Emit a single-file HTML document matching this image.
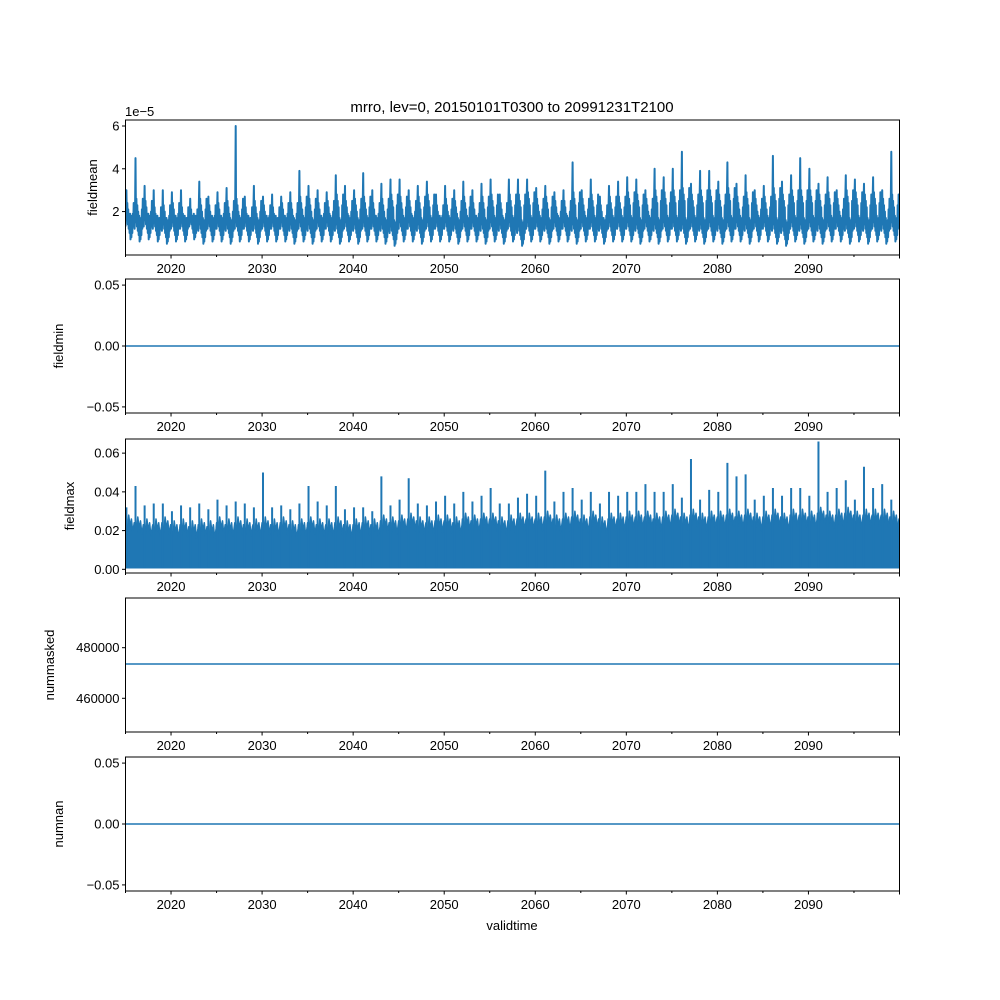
<!DOCTYPE html>
<html><head><meta charset="utf-8"><style>
body{margin:0;background:#fff}
svg{display:block;font-family:"Liberation Sans","DejaVu Sans",sans-serif}
</style></head><body>
<svg id="fig" width="1000" height="1000" viewBox="0 0 1000 1000"></svg>
<script>
const years=[];for(let y=2015;y<2100;y++)years.push(y);
const xTicks=[2020,2030,2040,2050,2060,2070,2080,2090];
const meanPeak=[3.0,4.5,3.2,3.0,3.0,2.9,3.0,2.6,3.4,2.7,2.9,3.1,6.0,2.7,3.2,2.7,2.8,2.7,2.9,3.9,3.2,3.0,2.9,3.7,3.2,3.0,3.8,3.0,3.3,3.5,3.5,3.0,3.2,3.4,2.8,3.2,3.0,3.4,3.0,3.3,3.5,2.8,3.5,3.5,3.5,3.1,3.2,2.9,3.0,4.3,3.0,3.5,2.7,3.2,3.4,3.6,3.5,3.0,4.0,3.6,4.0,4.8,3.3,3.9,3.9,3.4,4.3,3.3,3.7,3.0,3.2,4.6,3.4,3.7,4.5,4.0,3.3,3.6,3.0,3.7,3.5,3.3,3.6,3.0,4.8];
const meanSecond=[2.4,2.6,2.5,2.2,2.3,2.4,2.2,2.1,2.6,2.3,2.4,2.5,2.6,2.2,2.5,2.3,2.2,2.4,2.4,2.7,2.6,2.4,2.5,2.8,2.5,2.6,2.7,2.4,2.6,2.8,2.7,2.5,2.7,2.8,2.3,2.6,2.5,2.7,2.4,2.7,2.8,2.4,2.8,2.8,2.9,2.6,2.7,2.5,2.5,2.9,2.6,2.8,2.3,2.7,2.7,2.9,2.8,2.6,3.0,2.9,3.0,3.1,2.8,3.0,3.0,2.8,3.1,2.7,2.9,2.6,2.7,3.1,2.8,3.0,3.0,3.0,2.8,2.9,2.6,3.0,2.9,2.8,2.9,2.6,2.8];
const meanLow=[0.7,0.6,0.7,0.6,0.5,0.6,0.6,0.7,0.5,0.6,0.6,0.5,0.6,0.6,0.5,0.6,0.6,0.6,0.5,0.6,0.5,0.6,0.6,0.5,0.6,0.5,0.6,0.6,0.5,0.4,0.6,0.6,0.5,0.6,0.6,0.6,0.5,0.6,0.6,0.5,0.6,0.5,0.6,0.4,0.6,0.6,0.5,0.6,0.6,0.5,0.6,0.6,0.5,0.6,0.6,0.6,0.5,0.6,0.5,0.6,0.6,0.5,0.6,0.5,0.6,0.5,0.6,0.6,0.5,0.6,0.6,0.5,0.4,0.6,0.5,0.6,0.5,0.6,0.6,0.5,0.6,0.5,0.6,0.5,0.6];
const maxPeak=[0.032,0.043,0.033,0.034,0.034,0.030,0.033,0.032,0.034,0.031,0.036,0.033,0.035,0.034,0.032,0.050,0.032,0.033,0.031,0.034,0.043,0.035,0.033,0.043,0.031,0.032,0.032,0.030,0.048,0.033,0.036,0.047,0.034,0.033,0.035,0.038,0.034,0.040,0.035,0.038,0.042,0.034,0.034,0.037,0.039,0.038,0.051,0.035,0.040,0.042,0.036,0.040,0.034,0.040,0.038,0.040,0.040,0.044,0.040,0.040,0.044,0.037,0.057,0.036,0.041,0.040,0.055,0.048,0.049,0.036,0.038,0.042,0.038,0.042,0.042,0.038,0.066,0.040,0.042,0.046,0.036,0.053,0.042,0.044,0.036];
const maxTypical=[0.028,0.027,0.026,0.026,0.027,0.025,0.026,0.025,0.026,0.025,0.027,0.026,0.027,0.026,0.026,0.027,0.026,0.027,0.025,0.026,0.027,0.026,0.026,0.027,0.025,0.026,0.027,0.026,0.028,0.027,0.028,0.029,0.027,0.027,0.028,0.028,0.027,0.029,0.028,0.029,0.029,0.027,0.028,0.029,0.029,0.029,0.030,0.028,0.029,0.030,0.028,0.030,0.027,0.029,0.029,0.030,0.030,0.030,0.029,0.030,0.031,0.029,0.031,0.029,0.030,0.030,0.031,0.030,0.031,0.029,0.030,0.031,0.029,0.031,0.031,0.030,0.032,0.030,0.031,0.032,0.030,0.031,0.031,0.031,0.030];
const maxLow=0.0008;
const fieldminValue=0, numnanValue=0, nummaskedValue=473560;

const S=document.getElementById('fig');const NS='http://www.w3.org/2000/svg';
function el(t,a,p){const e=document.createElementNS(NS,t);for(const k in a)e.setAttribute(k,a[k]);(p||S).appendChild(e);return e;}
const X0=125.5,X1=899.5;const x=v=>X0+(v-2015)/(2100-2015)*(X1-X0);
const C='#1f77b4';
const panels=[
 {name:'fieldmean',top:120,bot:255,lo:-0.03,hi:6.28,ticks:[2,4,6],fmt:v=>String(v),lx:97},
 {name:'fieldmin',top:279,bot:413,lo:-0.055,hi:0.055,ticks:[-0.05,0,0.05],fmt:v=>v.toFixed(2).replace('-','−'),lx:63},
 {name:'fieldmax',top:439,bot:573,lo:-0.0019,hi:0.0673,ticks:[0,0.02,0.04,0.06],fmt:v=>v.toFixed(2),lx:74},
 {name:'nummasked',top:598,bot:732,lo:446680,hi:499640,ticks:[460000,480000],fmt:v=>String(v),lx:54},
 {name:'numnan',top:757,bot:891,lo:-0.055,hi:0.055,ticks:[-0.05,0,0.05],fmt:v=>v.toFixed(2).replace('-','−'),lx:63}
];
el('text',{x:512,y:112,'font-size':15,'text-anchor':'middle',}).textContent='mrro, lev=0, 20150101T0300 to 20991231T2100';
panels.forEach((p,i)=>{
 const g=el('g',{});
 const y=v=>p.bot-(v-p.lo)/(p.hi-p.lo)*(p.bot-p.top);
 const clip=el('clipPath',{id:'c'+i},g);el('rect',{x:X0,y:p.top,width:X1-X0,height:p.bot-p.top},clip);
 const dg=el('g',{'clip-path':'url(#c'+i+')',},g);
 if(p.name==='fieldmean'){
  let pts=[];
  years.forEach((yr,k)=>{
   const lo=meanLow[k],pk=meanPeak[k],sc=meanSecond[k];
   const seq=[[0,lo+0.6],[0.05,sc-0.4],[0.1,pk],[0.15,lo+0.9],[0.2,sc],[0.25,lo+0.7],[0.3,sc-0.3],[0.35,lo+0.5],[0.4,sc-0.6],[0.45,lo+0.3],[0.5,lo+1.2],[0.55,lo],[0.6,lo+1.0],[0.65,lo+0.1],[0.7,lo+1.1],[0.75,lo+0.3],[0.8,sc-0.5],[0.85,lo+0.6],[0.9,sc],[0.95,lo+0.8]];
   seq.forEach(s=>pts.push(x(yr+s[0]).toFixed(1)+','+y(s[1]).toFixed(1)));
  });
  el('polyline',{points:pts.join(' '),fill:'none',stroke:C,'stroke-width':2,'stroke-linejoin':'round',},dg);
 } else if(p.name==='fieldmax'){
  let top=[];
  years.forEach((yr,k)=>{const t=maxTypical[k];
   [[0,t-0.003],[0.2,t-0.008],[0.35,t],[0.5,t-0.006],[0.65,t-0.002],[0.8,t-0.009],[0.95,t-0.004]].forEach(s=>top.push(x(yr+s[0]).toFixed(1)+','+y(s[1]).toFixed(1)));
  });
  top.push(x(2100)+','+y(maxTypical[84]-0.004));
  const bot=[x(2100)+','+y(maxLow),x(2015)+','+y(maxLow)];
  el('polygon',{points:top.concat(bot).join(' '),fill:C,stroke:C,'stroke-width':1.5,'stroke-linejoin':'round',},dg);
  years.forEach((yr,k)=>{
   const l=el('line',{x1:x(yr+0.1),x2:x(yr+0.1),y1:y(maxLow),y2:y(maxPeak[k]),stroke:C,'stroke-width':2},dg);
   
   
  });
 } else {
  const v=p.name==='nummasked'?nummaskedValue:(p.name==='fieldmin'?fieldminValue:numnanValue);
  el('line',{x1:X0,x2:X1,y1:y(v),y2:y(v),stroke:C,'stroke-width':1.5,},dg);
 }
 el('rect',{x:X0,y:p.top,width:X1-X0,height:p.bot-p.top,fill:'none',stroke:'#000','stroke-width':1,},g);
 p.ticks.forEach(t=>{const yy=y(t);
  el('line',{x1:X0-3.5,x2:X0,y1:yy,y2:yy,stroke:'#000'},g);
  const tx=el('text',{x:X0-6,y:yy+4.5,'font-size':13,'text-anchor':'end'},g);tx.textContent=p.fmt(t);
  
 });
 for(let yr=2015;yr<=2100;yr+=5){const major=yr%10===0;
  el('line',{x1:x(yr),x2:x(yr),y1:p.bot,y2:p.bot+(major?3.5:2),stroke:'#000'},g);}
 xTicks.forEach(t=>{const tx=el('text',{x:x(t),y:p.bot+18,'font-size':13,'text-anchor':'middle'},g);tx.textContent=t;
  });
 const lx=p.lx;
 const ly=(p.top+p.bot)/2;
 const yl=el('text',{x:lx,y:ly,'font-size':13,'text-anchor':'middle',transform:`rotate(-90 ${lx} ${ly})`,},g);yl.textContent=p.name;
});
el('text',{x:125,y:116,'font-size':13,}).textContent='1e−5';
el('text',{x:512,y:930,'font-size':13,'text-anchor':'middle',}).textContent='validtime';
</script>
</body></html>
